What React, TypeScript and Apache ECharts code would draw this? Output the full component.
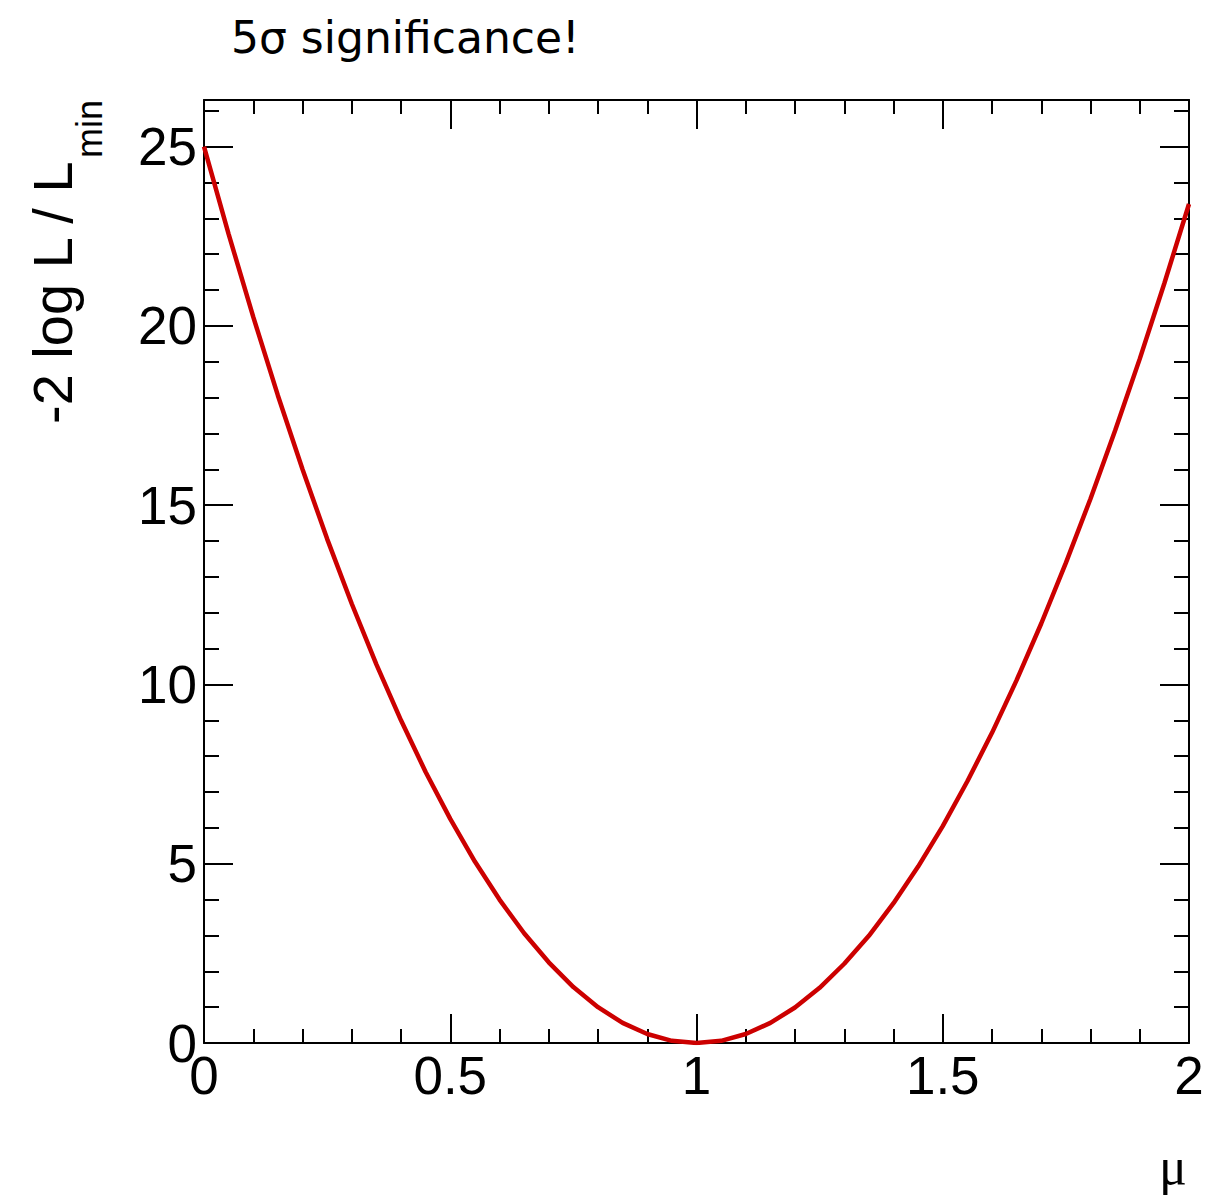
import React, { useEffect, useRef } from "react";
import * as echarts from "echarts";

// mu values (x) and -2 log L / L_min values (y)
const MU = [
  0.0, 0.05, 0.1, 0.15, 0.2, 0.25, 0.3, 0.35, 0.4, 0.45,
  0.5, 0.55, 0.6, 0.65, 0.7, 0.75, 0.8, 0.85, 0.9, 0.95,
  1.0, 1.05, 1.1, 1.15, 1.2, 1.25, 1.3, 1.35, 1.4, 1.45,
  1.5, 1.55, 1.6, 1.65, 1.7, 1.75, 1.8, 1.85, 1.9, 1.95, 2.0,
];
const NLL = [
  25.0, 22.56, 20.25, 18.06, 16.0, 14.06, 12.25, 10.56, 9.0, 7.56,
  6.25, 5.06, 4.0, 3.06, 2.25, 1.56, 1.0, 0.56, 0.25, 0.06,
  0.0, 0.06, 0.25, 0.56, 0.99, 1.54, 2.21, 2.99, 3.9, 4.92,
  6.05, 7.3, 8.65, 10.12, 11.7, 13.39, 15.18, 17.08, 19.08, 21.19, 23.4,
];

const X_MIN = 0;
const X_MAX = 2;
const X_MAJOR = 0.5;
const Y_MIN = 0;
const Y_MAX = 26.3;
const Y_MAJOR = 5;
const Y_MINOR = 1;

const TITLE = "5σ significance!";
const Y_TITLE = "-2 log L / L";
const Y_TITLE_SUB = "min";
const X_TITLE = "μ";

const FONT = "'Liberation Sans', Arial, Helvetica, sans-serif";

export default function App() {
  const ref = useRef<HTMLDivElement>(null);

  useEffect(() => {
    const el = ref.current;
    if (!el) return;
    const chart = echarts.init(el, null, { renderer: "svg" });
    const black = "#000000";
    const ls = { color: black, width: 2 };

    const xAxis = (pos: string, showLabel: boolean) => ({
      type: "value",
      position: pos,
      min: X_MIN,
      max: X_MAX,
      interval: X_MAJOR,
      axisLine: { show: true, onZero: false, lineStyle: ls },
      axisTick: { show: true, inside: true, length: 29, lineStyle: ls },
      minorTick: { show: true, splitNumber: 5, length: 14, lineStyle: ls },
      splitLine: { show: false },
      minorSplitLine: { show: false },
      axisLabel: {
        show: showLabel,
        fontSize: 53,
        fontFamily: FONT,
        color: black,
        margin: 6,
      },
    });

    const yAxis = (
      pos: string,
      interval: number,
      len: number,
      showLine: boolean,
      showLabel: boolean
    ) => ({
      type: "value",
      position: pos,
      min: Y_MIN,
      max: Y_MAX,
      interval,
      axisLine: { show: showLine, onZero: false, lineStyle: ls },
      axisTick: { show: true, inside: true, length: len, lineStyle: ls },
      splitLine: { show: false },
      axisLabel: {
        show: showLabel,
        showMaxLabel: false,
        fontSize: 53,
        fontFamily: FONT,
        color: black,
        margin: 7,
      },
    });

    chart.setOption({
      animation: false,
      backgroundColor: "#ffffff",
      title: {
        text: TITLE,
        left: 226,
        top: 10,
        textStyle: {
          fontSize: 44,
          fontWeight: "normal",
          fontFamily: "'DejaVu Sans', sans-serif",
          color: black,
        },
      },
      grid: { left: 204, right: 39, top: 100, bottom: 154, containLabel: false },
      xAxis: [xAxis("bottom", true), xAxis("top", false)],
      yAxis: [
        yAxis("left", Y_MAJOR, 29, true, true),
        yAxis("left", Y_MINOR, 15, false, false),
        yAxis("right", Y_MAJOR, 29, true, false),
        yAxis("right", Y_MINOR, 15, false, false),
      ],
      series: [
        {
          type: "line",
          xAxisIndex: 0,
          yAxisIndex: 0,
          data: MU.map((m, i) => [m, NLL[i]]),
          showSymbol: false,
          smooth: false,
          lineStyle: { color: "#cc0000", width: 4.5 },
          z: 1,
        },
      ],
      graphic: [
        {
          type: "text",
          x: 52,
          y: 424,
          rotation: Math.PI / 2,
          style: {
            text: Y_TITLE,
            fontSize: 56,
            fontFamily: FONT,
            fill: black,
            align: "left",
            verticalAlign: "middle",
          },
        },
        {
          type: "text",
          x: 89,
          y: 158,
          rotation: Math.PI / 2,
          style: {
            text: Y_TITLE_SUB,
            fontSize: 36,
            fontFamily: FONT,
            fill: black,
            align: "left",
            verticalAlign: "middle",
          },
        },
        {
          type: "text",
          x: 1187,
          y: 1192,
          style: {
            text: X_TITLE,
            fontSize: 52,
            fontFamily: "'Liberation Serif', 'DejaVu Serif', serif",
            fill: black,
            align: "right",
            verticalAlign: "bottom",
          },
        },
      ],
    });

    return () => {
      chart.dispose();
    };
  }, []);

  return (
    <div
      ref={ref}
      style={{
        position: "fixed",
        left: 0,
        top: 0,
        width: 1228,
        height: 1197,
        background: "#ffffff",
      }}
    />
  );
}
